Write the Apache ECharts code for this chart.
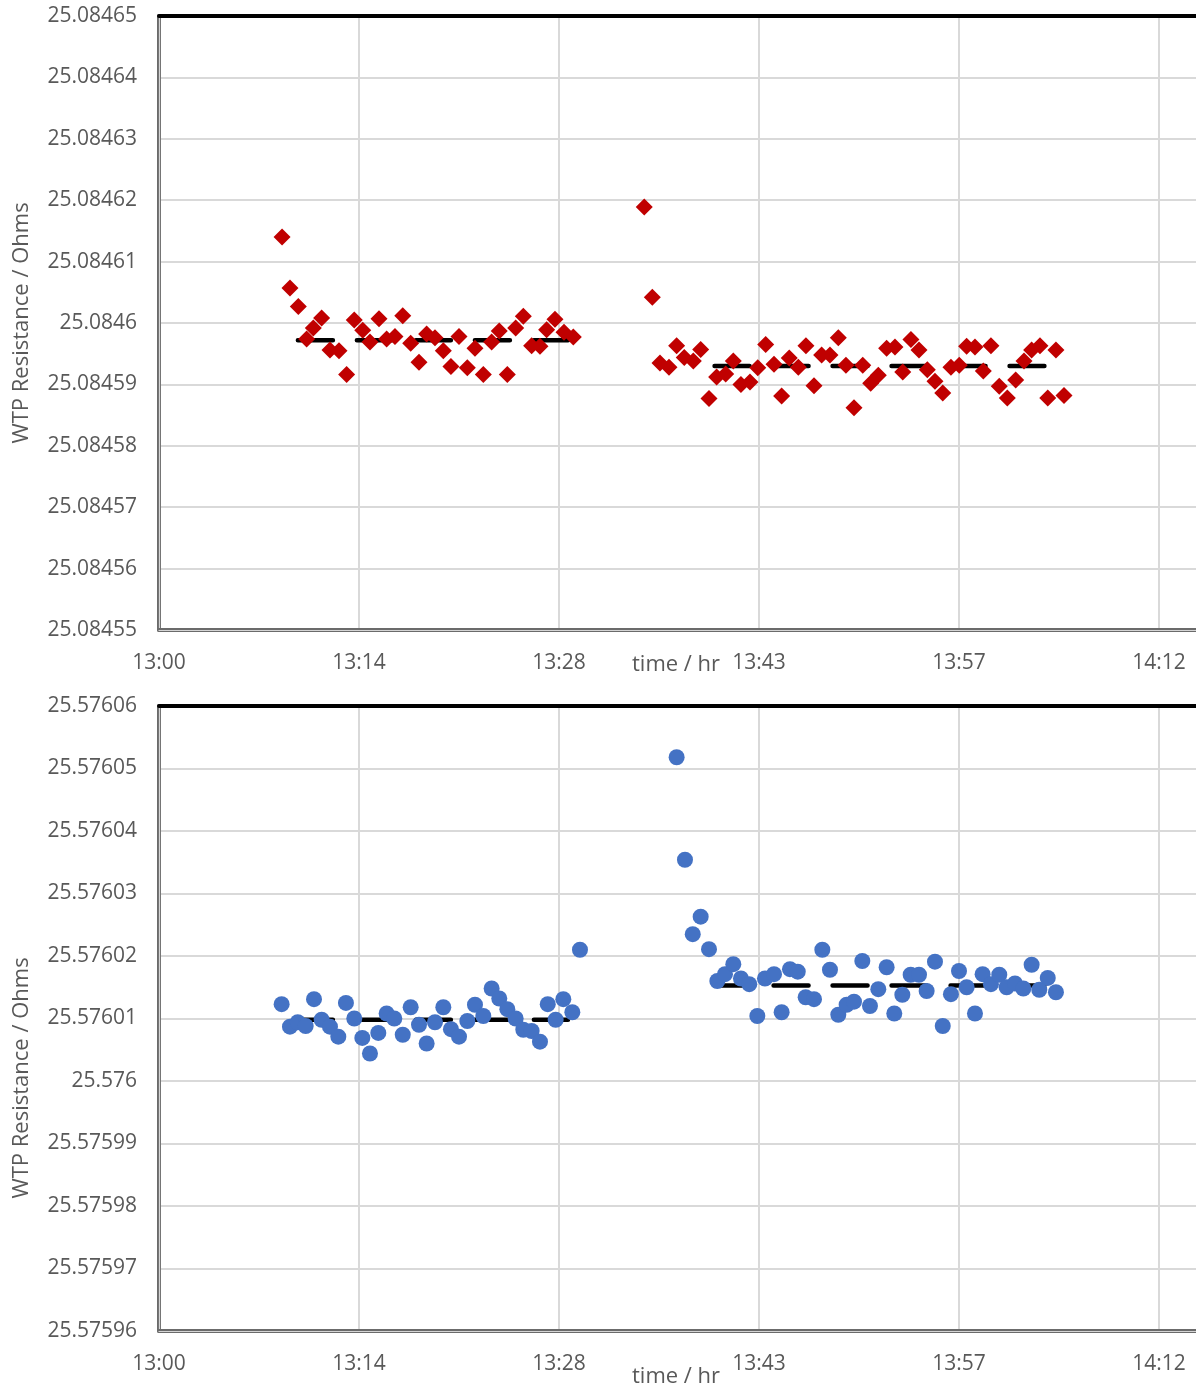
<!DOCTYPE html>
<html><head><meta charset="utf-8">
<script src="https://cdn.jsdelivr.net/npm/echarts@6/dist/echarts.min.js"></script>
<style>html,body{margin:0;padding:0;background:#fff}#c{width:1196px;height:1391px}</style>
</head><body><div id="c"></div>
<script>
// time in minutes after 13:00
const xTickLabels = ['13:00', '13:14', '13:28', '13:43', '13:57', '14:12'];
const xTickStep = 14.4; // minutes (0.01 day)
const yTopRange = [25.08455, 25.08465];
const yBottomRange = [25.57596, 25.57606];
const yStep = 0.00001;

const redT1 = [8.86,9.43,10.03,10.63,11.11,11.71,12.31,12.96,13.51,14.06,14.67,15.19,15.84,16.39,16.99,17.55,18.12,18.72,19.27,19.87,20.47,21.02,21.6,22.2,22.75,23.35,23.95,24.5,25.08,25.68,26.23,26.83,27.43,27.91,28.51,29.16,29.83];
const redV1 = [25.0846140,25.0846057,25.0846027,25.0845974,25.0845992,25.0846008,25.0845956,25.0845955,25.0845916,25.0846005,25.0845988,25.0845969,25.0846007,25.0845974,25.0845978,25.0846012,25.0845967,25.0845936,25.0845982,25.0845976,25.0845955,25.0845929,25.0845978,25.0845927,25.0845959,25.0845916,25.0845969,25.0845987,25.0845916,25.0845992,25.0846011,25.0845963,25.0845962,25.0845989,25.0846006,25.0845985,25.0845977];
const redT2 = [34.94,35.52,36.07,36.72,37.27,37.82,38.47,39.0,39.6,40.15,40.8,41.35,41.9,42.55,43.11,43.68,44.28,44.83,45.38,46.03,46.58,47.16,47.71,48.31,48.91,49.46,50.04,50.67,51.24,51.79,52.39,52.99,53.55,54.14,54.72,55.32,55.87,56.43,57.02,57.62,58.15,58.75,59.35,59.9,60.5,61.08,61.68,62.28,62.83,63.43,63.99,64.58,65.16];
const redV2 = [25.0846189,25.0846042,25.0845935,25.0845928,25.0845963,25.0845944,25.0845938,25.0845957,25.0845877,25.0845912,25.0845917,25.0845938,25.0845900,25.0845904,25.0845927,25.0845965,25.0845933,25.0845881,25.0845943,25.0845928,25.0845963,25.0845898,25.0845948,25.0845948,25.0845976,25.0845931,25.0845862,25.0845931,25.0845902,25.0845915,25.0845959,25.0845961,25.0845920,25.0845973,25.0845956,25.0845924,25.0845905,25.0845886,25.0845928,25.0845931,25.0845962,25.0845961,25.0845922,25.0845963,25.0845897,25.0845878,25.0845907,25.0845938,25.0845956,25.0845963,25.0845878,25.0845956,25.0845882];

const blueT1 = [8.83,9.43,9.99,10.56,11.16,11.71,12.31,12.91,13.46,14.06,14.64,15.19,15.79,16.39,16.94,17.55,18.12,18.72,19.27,19.87,20.47,21.02,21.6,22.2,22.75,23.35,23.95,24.5,25.08,25.68,26.23,26.83,27.43,27.99,28.56,29.11,29.76,30.31];
const blueV1 = [25.5760123,25.5760087,25.5760094,25.5760088,25.5760131,25.5760098,25.5760087,25.5760071,25.5760125,25.5760100,25.5760069,25.5760044,25.5760077,25.5760108,25.5760100,25.5760074,25.5760118,25.5760090,25.5760060,25.5760094,25.5760118,25.5760083,25.5760071,25.5760096,25.5760122,25.5760104,25.5760148,25.5760132,25.5760115,25.5760100,25.5760082,25.5760080,25.5760063,25.5760123,25.5760098,25.5760131,25.5760110,25.5760210];
const blueT2 = [37.27,37.87,38.43,39.0,39.6,40.2,40.75,41.35,41.9,42.5,43.08,43.63,44.28,44.83,45.43,45.99,46.56,47.16,47.76,48.31,48.91,49.51,50.04,50.64,51.19,51.79,52.39,52.94,53.52,54.12,54.72,55.27,55.87,56.43,57.02,57.6,58.15,58.75,59.3,59.9,60.5,61.03,61.63,62.23,62.83,63.38,63.99,64.58];
const blueV2 = [25.5760518,25.5760354,25.5760235,25.5760263,25.5760211,25.5760160,25.5760171,25.5760187,25.5760164,25.5760155,25.5760104,25.5760164,25.5760171,25.5760110,25.5760179,25.5760175,25.5760134,25.5760131,25.5760210,25.5760178,25.5760106,25.5760122,25.5760127,25.5760192,25.5760120,25.5760147,25.5760182,25.5760108,25.5760138,25.5760170,25.5760170,25.5760144,25.5760191,25.5760088,25.5760139,25.5760176,25.5760150,25.5760108,25.5760171,25.5760155,25.5760170,25.5760150,25.5760156,25.5760148,25.5760186,25.5760146,25.5760165,25.5760142];

// mean lines: [start time, end time, value]
const meanTop = [[10.0, 29.45, 25.0845972], [40.0, 63.75, 25.0845930]];
const meanBottom = [[10.0, 29.45, 25.5760098], [40.0, 63.75, 25.5760153]];

const FONT = '"Open Sans", "Noto Sans", sans-serif';
const GRAY = '#595959';
const zip = (t, v) => t.map((x, i) => [x, v[i]]);

const xMax = xTickStep * 6;
function xAxes(g) {
  return [
    { gridIndex: g, type: 'value', min: 0, max: xMax, interval: xTickStep, position: 'bottom',
      axisLine: { show: true, onZero: false, lineStyle: { color: '#6b6b6b', width: 4 } },
      axisTick: { show: false },
      axisLabel: { color: GRAY, fontSize: 21, fontFamily: FONT, margin: 23, hideOverlap: false,
        formatter: v => xTickLabels[Math.round(v / xTickStep)] || '' },
      splitLine: { show: true, lineStyle: { color: '#d9d9d9', width: 2 } } },
    { gridIndex: g, type: 'value', min: 0, max: xMax, interval: xTickStep, position: 'bottom',
      axisLine: { show: true, onZero: false, lineStyle: { color: '#d4d4d4', width: 1.2 } },
      axisTick: { show: false }, axisLabel: { show: false }, splitLine: { show: false } },
    { gridIndex: g, type: 'value', min: 0, max: xMax, interval: xTickStep, position: 'top',
      axisLine: { show: true, onZero: false, lineStyle: { color: '#000', width: 4 } },
      axisTick: { show: false }, axisLabel: { show: false }, splitLine: { show: false } }
  ];
}
function yAxes(g, range) {
  return [
    { gridIndex: g, type: 'value', min: range[0], max: range[1], interval: yStep, position: 'left',
      axisLine: { show: true, onZero: false, lineStyle: { color: '#6b6b6b', width: 4 } },
      axisTick: { show: false },
      axisLabel: { color: GRAY, fontSize: 21, fontFamily: FONT, margin: 22,
        formatter: v => String(parseFloat(v.toFixed(5))) },
      splitLine: { show: true, lineStyle: { color: '#d9d9d9', width: 2 } } },
    { gridIndex: g, type: 'value', min: range[0], max: range[1], interval: yStep, position: 'left',
      axisLine: { show: true, onZero: false, lineStyle: { color: '#d4d4d4', width: 1.2 } },
      axisTick: { show: false }, axisLabel: { show: false }, splitLine: { show: false } }
  ];
}
function meanSeries(lines, xi, yi) {
  return lines.map(l => ({
    type: 'line', xAxisIndex: xi, yAxisIndex: yi, z: 2, symbol: 'none', silent: true,
    data: [[l[0], l[2]], [l[1], l[2]]],
    lineStyle: { color: '#000', width: 4.5, type: [35, 24], cap: 'round' }
  }));
}
function scatter(t, v, xi, yi, symbol, size, color) {
  return { type: 'scatter', xAxisIndex: xi, yAxisIndex: yi, z: 3, symbol, symbolSize: size,
    itemStyle: { color, opacity: 1 }, data: zip(t, v) };
}

const chart = echarts.init(document.getElementById('c'), null, { renderer: 'canvas' });
chart.setOption({
  animation: false,
  backgroundColor: '#fff',
  grid: [
    { left: 159, top: 16, right: -1200 + 1037, height: 614, containLabel: false, outerBoundsMode: 'none' },
    { left: 159, top: 706, right: -1200 + 1037, height: 625, containLabel: false, outerBoundsMode: 'none' }
  ],
  xAxis: [...xAxes(0), ...xAxes(1)],
  yAxis: [...yAxes(0, yTopRange), ...yAxes(1, yBottomRange)],
  title: [
    { text: 'time / hr', left: 632, top: 654, padding: 0,
      textStyle: { fontSize: 22, fontWeight: 'normal', color: GRAY, fontFamily: FONT } },
    { text: 'time / hr', left: 632, top: 1366, padding: 0,
      textStyle: { fontSize: 22, fontWeight: 'normal', color: GRAY, fontFamily: FONT } }
  ],
  graphic: [
    { type: 'text', x: 22, y: 323, rotation: Math.PI / 2,
      style: { text: 'WTP Resistance / Ohms', fill: GRAY, font: '22px ' + FONT, textAlign: 'center', textVerticalAlign: 'middle' } },
    { type: 'text', x: 22, y: 1078, rotation: Math.PI / 2,
      style: { text: 'WTP Resistance / Ohms', fill: GRAY, font: '22px ' + FONT, textAlign: 'center', textVerticalAlign: 'middle' } }
  ],
  series: [
    ...meanSeries(meanTop, 0, 0),
    ...meanSeries(meanBottom, 3, 2),
    scatter(redT1, redV1, 0, 0, 'diamond', 17, '#C00000'),
    scatter(redT2, redV2, 0, 0, 'diamond', 17, '#C00000'),
    scatter(blueT1, blueV1, 3, 2, 'circle', 16, '#4472C4'),
    scatter(blueT2, blueV2, 3, 2, 'circle', 16, '#4472C4')
  ]
});
</script></body></html>
